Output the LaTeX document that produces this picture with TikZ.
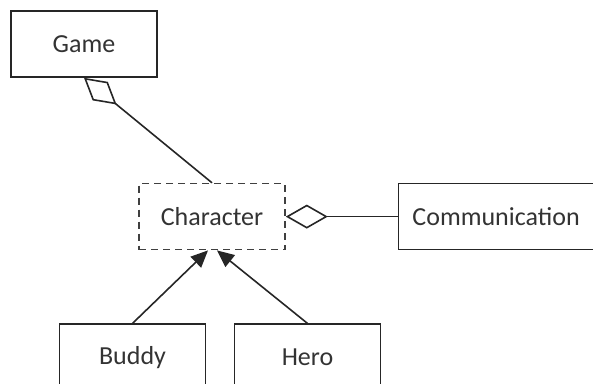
\documentclass[tikz,border=0pt]{standalone}
\usepackage{fontspec}
\setmainfont{Carlito}
\usetikzlibrary{arrows.meta,positioning}
\tikzstyle{cls}=[rectangle, draw=black!85, line width=1.6pt, text=black!80,
    minimum width=146pt, minimum height=66pt, font=\fontsize{26}{31}\selectfont]
\tikzstyle{abstractcls}=[cls, dash pattern=on 7pt off 5pt, draw=black!75]
\tikzstyle{agg}=[-{Diamond[open,length=42pt,width=24pt]}, line width=1.6pt, draw=black!85]
\tikzstyle{gen}=[-{Triangle[length=17pt,width=15pt]}, line width=1.6pt, draw=black!85]

\begin{document}
\begin{tikzpicture}[x=1pt,y=-1pt]
  \useasboundingbox (0,0) rectangle (593,383);

  \node[cls] (game) at (84,44) {Game};
  \node[abstractcls, below=105pt of game, xshift=128pt] (character) {Character};
  \node[cls, right=112pt of character, minimum width=195pt] (communication) {Communication};
  \node[cls, below=73pt of character, xshift=-79.5pt] (buddy) {Buddy};
  \node[cls, below=73pt of character, xshift=95.5pt] (hero) {Hero};

  \draw[agg] (character.north) -- (game.south);
  \draw[agg] (communication.west) -- (character.east);
  \draw[gen] (buddy.north) -- ([xshift=-4pt]character.south);
  \draw[gen] (hero.north) -- ([xshift=5pt]character.south);
\end{tikzpicture}
\end{document}
